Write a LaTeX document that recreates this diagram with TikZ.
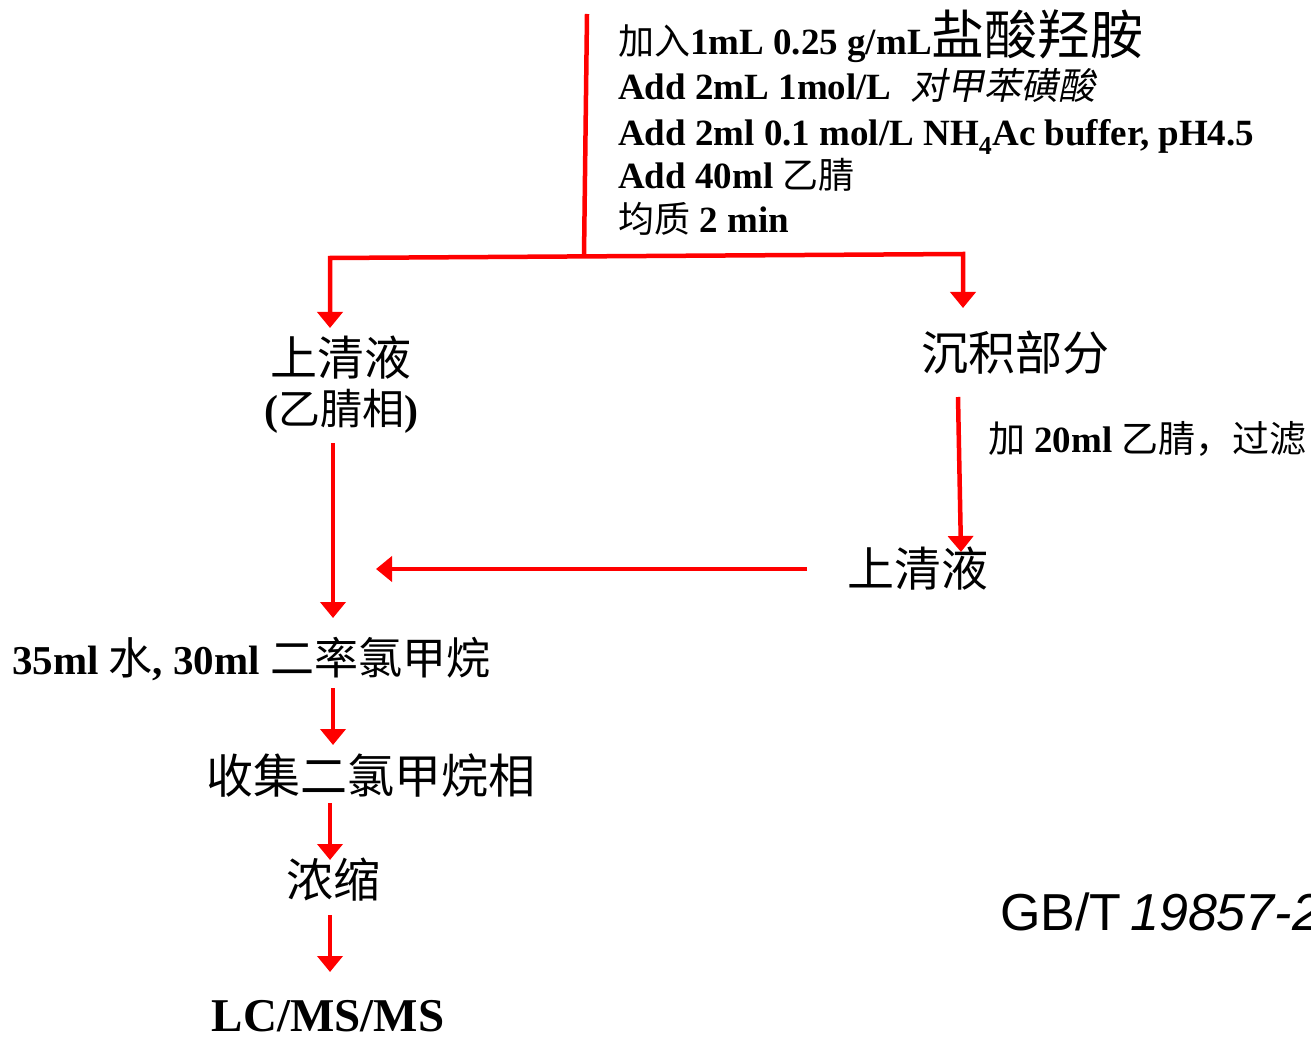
\documentclass[tikz,border=0pt]{standalone}
\usepackage{fontspec}
\setmainfont{Liberation Serif}
\newfontfamily\cjk{Noto Sans CJK SC}
\newfontfamily\cjkit[FakeSlant=0.2]{Noto Sans CJK SC}
\newfontfamily\arialf{Liberation Sans}
\usetikzlibrary{arrows.meta}
\newcommand\zhtxt[1]{{\cjk\mdseries #1}}
\newcommand\zhit[1]{{\cjkit\mdseries #1}}
\begin{document}
\begin{tikzpicture}[x=1pt,y=-1pt,
  redline/.style={draw=red, line width=4.5pt},
  arr/.style={redline, -{Triangle[width=25pt,length=16pt]}},
  bigzh/.style={font=\fontsize{47}{50}\selectfont\cjk, inner sep=0pt},
  lbl/.style={anchor=base west, inner sep=0pt, font=\fontsize{37}{40}\selectfont\bfseries},
]
\useasboundingbox (0,0) rectangle (1311,1040);

% text block
\node[lbl] (t1) at (618,55) {\zhtxt{\fontsize{36}{40}\selectfont 加入}1mL 0.25 g/mL\zhtxt{\fontsize{53}{50}\selectfont 盐酸羟胺}};
\node[lbl] (t2) at (618,100) {Add 2mL 1mol/L\ \ \zhit{\fontsize{37}{40}\selectfont 对甲苯磺酸}};
\node[lbl] (t3) at (618,146) {Add 2ml 0.1 mol/L NH\textsubscript{4}Ac buffer, pH4.5};
\node[lbl] (t4) at (618,189) {Add 40ml \zhtxt{\fontsize{36}{40}\selectfont 乙腈}};
\node[lbl] (t5) at (618,233) {\zhtxt{\fontsize{36}{40}\selectfont 均质} 2 min};

% nodes
\node[bigzh] (s1) at (341,358) {上清液};
\node[inner sep=0pt, font=\fontsize{42}{44}\selectfont\bfseries] (s1b) at (341,411) {(\zhtxt{乙腈相})};
\node[bigzh] (dep) at (1015,353) {沉积部分};
\node[lbl] (filt) at (988,452) {\zhtxt{\fontsize{37}{40}\selectfont 加} 20ml \zhtxt{\fontsize{37}{40}\selectfont 乙腈，过滤}};
\node[bigzh] (s2) at (918,569) {上清液};
\node[lbl, font=\fontsize{41}{44}\selectfont\bfseries] (mix) at (12,674) {35ml \zhtxt{\fontsize{44}{44}\selectfont 水}, 30ml \zhtxt{\fontsize{44}{44}\selectfont 二率氯甲烷}};
\node[bigzh] (col) at (371,776) {收集二氯甲烷相};
\node[bigzh] (conc) at (333,880) {浓缩};
\node[anchor=base, inner sep=0pt, font=\fontsize{47}{50}\selectfont\bfseries] (lc) at (328,1031) {LC/MS/MS};
\node[anchor=base west, inner sep=0pt, font=\fontsize{52}{56}\selectfont\arialf] (gb) at (1000,930) {GB/T\,\textit{19857-2}};

% connector coordinates
\coordinate (top) at (587,14);
\coordinate (jm) at (584,256);
\coordinate (jl) at (330,258);
\coordinate (jr) at (963,254);
\coordinate (tipL) at (330,328);
\coordinate (tipR) at (963,308);
\coordinate (d1) at (958,397);
\coordinate (d2) at (961,552);
\coordinate (h1) at (807,569);
\coordinate (h2) at (376,569);
\coordinate (v1) at (333,443);
\coordinate (v2) at (333,618);
\coordinate (a1) at (333,688);
\coordinate (a2) at (333,745);
\coordinate (b1) at (330,803);
\coordinate (b2) at (330,860);
\coordinate (c1) at (330,915);
\coordinate (c2) at (330,972);

\draw[redline] (top) -- (jm);
\draw[redline, {Triangle[width=25pt,length=16pt]}-{Triangle[width=25pt,length=16pt]}] (tipL) -- (jl) -- (jr) -- (tipR);
\draw[arr] (d1) -- (d2);
\draw[arr] (h1) -- (h2);
\draw[arr] (v1) -- (v2);
\draw[arr] (a1) -- (a2);
\draw[arr] (b1) -- (b2);
\draw[arr] (c1) -- (c2);
\end{tikzpicture}
\end{document}
